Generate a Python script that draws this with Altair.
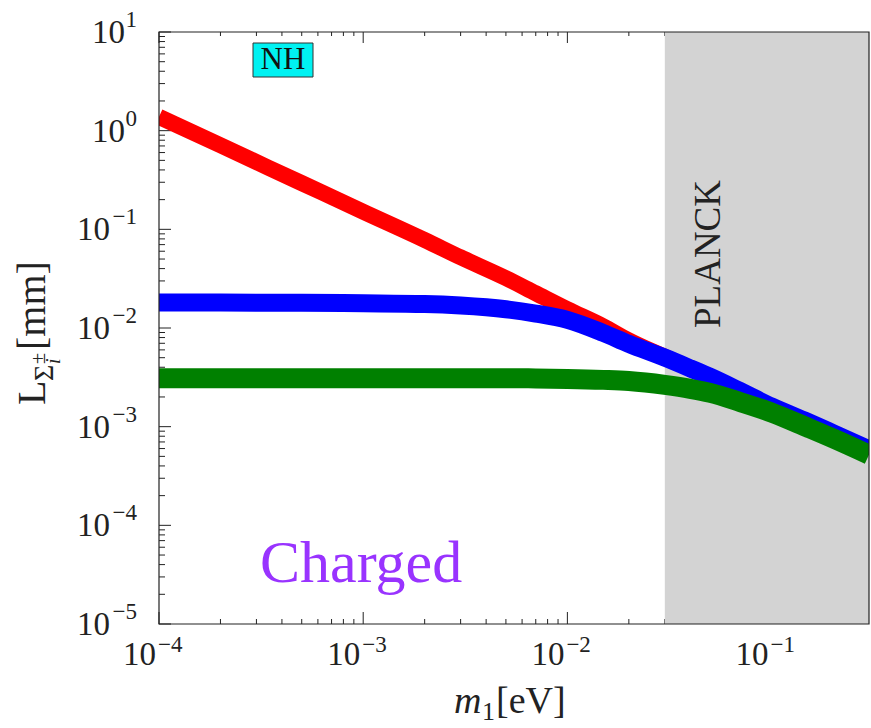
import altair as alt
import pandas as pd

# ---------------- data ----------------
m1 = [1e-4, 2e-4, 5e-4, 1e-3, 2e-3, 3e-3, 5e-3, 7e-3, 1e-2, 1.5e-2, 2e-2,
      3e-2, 4e-2, 5e-2, 7e-2, 1e-1, 1.5e-1, 2e-1, 3e-1]
L_red = [1.38, 0.71, 0.294, 0.151, 0.078, 0.052, 0.032, 0.0225, 0.0155, 0.0104,
         0.0075, 0.0051, 0.0039, 0.0032, 0.0023, 0.0016, 0.00112, 0.00086, 0.00059]
L_blue = [0.0181, 0.0181, 0.0180, 0.0178, 0.0175, 0.0169, 0.0155, 0.0140, 0.0121,
          0.0089, 0.0069, 0.0050, 0.0039, 0.0032, 0.0023, 0.0016, 0.00112, 0.00086, 0.00059]
L_green = [0.0031, 0.0031, 0.0031, 0.0031, 0.0031, 0.0031, 0.0031, 0.00308, 0.00305,
           0.00298, 0.0029, 0.00265, 0.00242, 0.0022, 0.00178, 0.00139, 0.00098,
           0.00076, 0.00052]

planck_limit = [0.03]
x_max = [0.3]

y_major = [1e-5, 1e-4, 1e-3, 1e-2, 1e-1, 1, 10]
y_exponents = ["−5", "−4", "−3", "−2", "−1", "0", "1"]
x_major = [1e-4, 1e-3, 1e-2, 1e-1]
x_exponents = ["−4", "−3", "−2", "−1"]
tick_base = "10"
y_minor = [k * 10.0 ** e for e in range(-5, 1) for k in range(2, 10)]
x_minor = [k * 10.0 ** e for e in range(-4, 0) for k in range(2, 10) if k * 10.0 ** e < 0.29]

# ---------------- layout ----------------
W, H = 710, 592
SERIF = "Liberation Serif"
INK = "#222222"

xscale = alt.Scale(type="log", domain=[1e-4, 0.3], nice=False)
yscale = alt.Scale(type="log", domain=[1e-5, 10], nice=False)
X = alt.X("x:Q", scale=xscale, axis=None)
Y = alt.Y("y:Q", scale=yscale, axis=None)

# ---------------- tick marks (inside) ----------------
ymaj_df = pd.DataFrame({"y": y_major})
ymin_df = pd.DataFrame({"y": y_minor})
xmaj_df = pd.DataFrame({"x": x_major})
xmin_df = pd.DataFrame({"x": x_minor})

ticks = [
    alt.Chart(ymaj_df).mark_rule(color=INK, strokeWidth=1).encode(
        y=Y, x=alt.value(0), x2=alt.value(12)),
    alt.Chart(ymin_df).mark_rule(color=INK, strokeWidth=1).encode(
        y=Y, x=alt.value(0), x2=alt.value(6)),
    alt.Chart(xmaj_df).mark_rule(color=INK, strokeWidth=1).encode(
        x=X, y=alt.value(H), y2=alt.value(H - 12)),
    alt.Chart(xmin_df).mark_rule(color=INK, strokeWidth=1).encode(
        x=X, y=alt.value(H), y2=alt.value(H - 5)),
    alt.Chart(xmaj_df).mark_rule(color=INK, strokeWidth=1).encode(
        x=X, y=alt.value(0), y2=alt.value(11)),
    alt.Chart(xmin_df).mark_rule(color=INK, strokeWidth=1).encode(
        x=X, y=alt.value(0), y2=alt.value(4)),
]

# ---------------- tick labels 10^k ----------------
neg = [i for i, e in enumerate(y_exponents) if e.startswith("−")]
pos = [i for i, e in enumerate(y_exponents) if not e.startswith("−")]
ylab_neg = pd.DataFrame({"y": [y_major[i] for i in neg], "t": [tick_base] * len(neg)})
ylab_pos = pd.DataFrame({"y": [y_major[i] for i in pos], "t": [tick_base] * len(pos)})
yexp = pd.DataFrame({"y": y_major, "t": y_exponents})
xlab = pd.DataFrame({"x": x_major, "t": [tick_base] * len(x_major)})
xexp = pd.DataFrame({"x": x_major, "t": x_exponents})

labels = [
    alt.Chart(ylab_neg).mark_text(font=SERIF, fontSize=33, color=INK, align="right",
                                  baseline="alphabetic", dy=11).encode(
        y=Y, x=alt.value(-49), text="t:N"),
    alt.Chart(ylab_pos).mark_text(font=SERIF, fontSize=33, color=INK, align="right",
                                  baseline="alphabetic", dy=11).encode(
        y=Y, x=alt.value(-34), text="t:N"),
    alt.Chart(yexp).mark_text(font=SERIF, fontSize=23, color=INK, align="right",
                              baseline="alphabetic", dy=-5).encode(
        y=Y, x=alt.value(-22), text="t:N"),
    alt.Chart(xlab).mark_text(font=SERIF, fontSize=33, color=INK, align="right",
                              baseline="alphabetic", dx=-3).encode(
        x=X, y=alt.value(633), text="t:N"),
    alt.Chart(xexp).mark_text(font=SERIF, fontSize=23, color=INK, align="left",
                              baseline="alphabetic", dx=-1).encode(
        x=X, y=alt.value(620), text="t:N"),
]

# ---------------- PLANCK excluded band ----------------
band = alt.Chart(pd.DataFrame({"x": planck_limit, "x2": x_max})).mark_rect(
    color="#d3d3d3").encode(x=X, x2="x2:Q", y=alt.value(0), y2=alt.value(H))


# ---------------- curves ----------------
def curve(vals, color, width):
    df = pd.DataFrame({"x": m1, "y": vals})
    return alt.Chart(df).mark_line(color=color, strokeWidth=width, interpolate="monotone",
                                   strokeCap="butt", clip=True).encode(x=X, y=Y)


red = curve(L_red, "#ff0000", 16)
blue = curve(L_blue, "#0000ff", 18)
green = curve(L_green, "#008000", 20)

one = pd.DataFrame({"t": [""]})

border = alt.Chart(one).mark_rect(filled=False, stroke=INK, strokeWidth=1.2).encode(
    x=alt.value(0), x2=alt.value(W), y=alt.value(0), y2=alt.value(H))


def txt(text, x, y, size, **kw):
    return alt.Chart(pd.DataFrame({"t": [text]})).mark_text(
        font=SERIF, fontSize=size, **kw).encode(x=alt.value(x), y=alt.value(y), text="t:N")


nh_box = alt.Chart(one).mark_rect(fill="#00f2f2", stroke="#333333", strokeWidth=1).encode(
    x=alt.value(94), x2=alt.value(154), y=alt.value(11), y2=alt.value(45))
nh_text = txt("NH", 124, 28, 31, color="#111111", align="center", baseline="middle")

charged = txt("Charged", 101, 550, 60, color="#9933ff", align="left", baseline="alphabetic")
planck = txt("PLANCK", 561, 222, 37, color=INK, align="center", baseline="alphabetic", angle=270)

# y-axis title  L_{Σ_i^±}[mm]  (rotated, reads bottom to top)
ytitle = [
    txt("L", -114, 373, 40, color=INK, align="left", baseline="alphabetic", angle=270),
    txt("Σ", -106, 349, 28, color=INK, align="left", baseline="alphabetic", angle=270),
    txt("±", -114, 332, 20, color=INK, align="left", baseline="alphabetic", angle=270),
    txt("i", -99, 332, 20, color=INK, align="left", baseline="alphabetic", angle=270,
        fontStyle="italic"),
    txt("[mm]", -114, 318, 40, color=INK, align="left", baseline="alphabetic", angle=270),
]

# x-axis title  m_1[eV]
xtitle = [
    txt("m", 295, 681, 38, color=INK, align="left", baseline="alphabetic", fontStyle="italic"),
    txt("1", 323, 688, 26, color=INK, align="left", baseline="alphabetic"),
    txt("[eV]", 337, 681, 38, color=INK, align="left", baseline="alphabetic"),
]

chart = alt.layer(
    *ticks, band, red, blue, green, border, nh_box, nh_text, charged, planck,
    *labels, *ytitle, *xtitle
).properties(
    width=W, height=H,
    padding={"left": 159, "top": 32, "right": 2, "bottom": 104},
    autosize=alt.AutoSizeParams(type="none"),
    background="white",
).configure_view(stroke=None)

chart.save("out.html", embed_options={"renderer": "svg", "actions": False})
